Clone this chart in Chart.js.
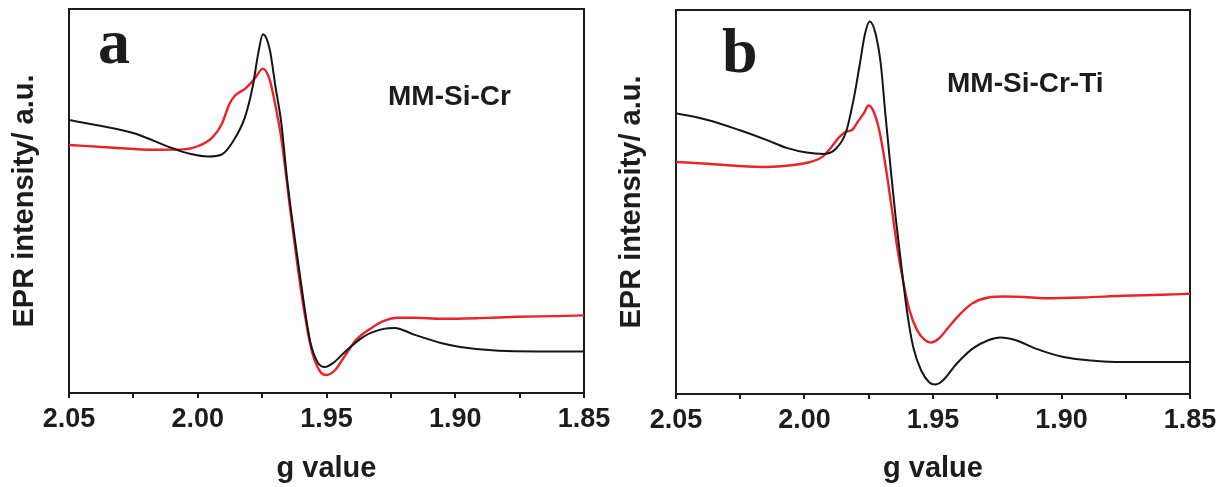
<!DOCTYPE html>
<html>
<head>
<meta charset="utf-8">
<script src="https://cdn.jsdelivr.net/npm/chart.js@4"></script>
<style>
  html, body { margin: 0; padding: 0; background: #ffffff; }
  body { width: 1228px; height: 487px; position: relative; overflow: hidden; }
  .wrap { position: absolute; top: 0; height: 487px; }
  #wa { left: 0; width: 620px; }
  #wb { left: 610px; width: 618px; }
  canvas { display: block; }
</style>
</head>
<body>
<div class="wrap" id="wa"><canvas id="ca" width="620" height="487"></canvas></div>
<div class="wrap" id="wb"><canvas id="cb" width="618" height="487"></canvas></div>
<script>
// ---- data (g value vs EPR intensity, a.u.) ----
const xTickLabels = ['2.05', '2.00', '1.95', '1.90', '1.85'];

const gBlackA = [2.050, 2.0251, 2.0101, 2.0027, 1.9959, 1.9907, 1.9862, 1.9817, 1.9787, 1.9765, 1.9747, 1.9720, 1.9698, 1.9675, 1.9653, 1.9623, 1.9593, 1.9563, 1.9533, 1.9506, 1.9474, 1.9429, 1.9354, 1.9279, 1.9235, 1.9160, 1.9055, 1.8981, 1.8831, 1.8682, 1.850];
const yBlackA = [274, 261, 246, 240, 237.5, 239.5, 253, 276.6, 307, 340.6, 359.7, 344, 307, 270, 215, 155, 100, 52, 31, 27, 31, 42, 57.7, 65.1, 66.1, 59.4, 51, 47, 43.2, 42.6, 42.6];

const gRedA = [2.050, 2.0325, 2.0176, 2.0056, 1.9997, 1.9944, 1.9907, 1.9877, 1.9855, 1.9817, 1.9780, 1.9747, 1.9720, 1.9698, 1.9675, 1.9646, 1.9616, 1.9586, 1.9556, 1.9526, 1.9501, 1.9466, 1.9429, 1.9384, 1.9325, 1.9279, 1.9220, 1.9160, 1.9055, 1.8906, 1.8757, 1.8608, 1.850];
const yRedA = [249, 246.3, 244.3, 244.6, 248, 256.4, 269.8, 290, 298.5, 305, 315, 325.4, 313.6, 288, 255, 195, 135, 82, 42, 23, 19, 24, 38, 54.4, 66.1, 72.9, 76.2, 76.2, 75.2, 75.9, 77.2, 77.9, 78.6];

const gBlackB = [2.050, 2.0377, 2.0254, 2.0146, 2.0069, 1.9992, 1.9923, 1.9877, 1.9838, 1.9808, 1.9785, 1.9765, 1.9746, 1.9723, 1.9703, 1.9685, 1.9666, 1.9646, 1.9623, 1.9600, 1.9577, 1.9546, 1.9515, 1.9492, 1.9462, 1.9408, 1.9346, 1.9285, 1.9238, 1.9177, 1.9100, 1.8992, 1.8885, 1.8762, 1.8608, 1.850];
const yBlackB = [280.8, 274, 264, 253.9, 246.1, 241.4, 240.1, 245.5, 262.3, 295.9, 329.5, 359.8, 372.6, 359.8, 329.5, 279.1, 228.7, 178.2, 127.8, 80.7, 47.1, 23.5, 11.8, 9.4, 13.5, 30.3, 45.4, 53.8, 56.5, 53.8, 45.4, 37, 33.6, 32, 32, 32];

const gRedB = [2.050, 2.0377, 2.0254, 2.0146, 2.0054, 1.9977, 1.9931, 1.9900, 1.9869, 1.9838, 1.9815, 1.9792, 1.9769, 1.9751, 1.9731, 1.9708, 1.9685, 1.9662, 1.9638, 1.9615, 1.9592, 1.9562, 1.9531, 1.9508, 1.9477, 1.9438, 1.9392, 1.9346, 1.9285, 1.9223, 1.9146, 1.9069, 1.8915, 1.8762, 1.8608, 1.850];
const yRedB = [232, 230.3, 228, 227, 228.7, 232, 237.1, 245.5, 255.6, 262.3, 264, 272.4, 280.8, 288.5, 282.5, 262.3, 228.7, 188.3, 144.6, 111, 84.1, 63.9, 53.8, 51.4, 55.5, 67.3, 80.7, 90.8, 96.5, 97.5, 97, 95.8, 96.5, 98.2, 99.2, 100.2];

// ---- helpers ----
function pts(gs, ys) { return gs.map((g, i) => ({ x: g, y: ys[i] })); }

const INK = '#1c1c1c';
const SANS = '"Liberation Sans", Arial, sans-serif';

function panelTextPlugin(items) {
  return {
    id: 'panelText',
    afterDraw(chart) {
      const { ctx, chartArea } = chart;
      ctx.save();
      ctx.fillStyle = INK;
      ctx.textBaseline = 'alphabetic';
      ctx.textAlign = 'left';
      items.forEach(it => {
        ctx.font = it.font;
        ctx.fillText(it.text, chartArea.left + it.dx, chartArea.top + it.dy);
      });
      ctx.restore();
    }
  };
}

function makeChart(canvasId, cfg) {
  const isMajor = v => Math.abs(v * 20 - Math.round(v * 20)) < 1e-6;
  return new Chart(document.getElementById(canvasId), {
    type: 'line',
    data: {
      datasets: [
        { data: pts(cfg.gBlack, cfg.yBlack), borderColor: '#151515', borderWidth: 2, pointRadius: 0, cubicInterpolationMode: 'monotone', fill: false },
        { data: pts(cfg.gRed, cfg.yRed), borderColor: '#e8232b', borderWidth: 2.4, pointRadius: 0, cubicInterpolationMode: 'monotone', fill: false }
      ]
    },
    options: {
      responsive: false,
      animation: false,
      devicePixelRatio: 1,
      layout: { padding: { top: cfg.padTop, right: cfg.padRight, bottom: 0, left: 0 } },
      plugins: { legend: { display: false }, tooltip: { enabled: false } },
      scales: {
        x: {
          type: 'linear',
          position: 'bottom',
          reverse: true,
          min: 1.85,
          max: 2.05,
          afterFit(s) { s.height = cfg.xAxisH; },
          ticks: {
            stepSize: 0.025,
            padding: 5,
            color: INK,
            font: { family: SANS, size: 27, weight: 'bold' },
            maxRotation: 0,
            autoSkip: false,
            callback: v => {
              if (!isMajor(v)) return '';
              const s = (Math.round(v * 100) / 100).toFixed(2);
              return xTickLabels.includes(s) ? s : '';
            }
          },
          grid: { display: true, drawOnChartArea: false, drawTicks: true, tickLength: 5, color: INK, lineWidth: 2 },
          border: { display: true, color: INK, width: 2 },
          title: { display: true, text: 'g value', color: INK, font: { family: SANS, size: 29, weight: 'bold' }, padding: { top: 0, bottom: 1 } }
        },
        x2: {
          type: 'linear',
          position: 'top',
          min: 1.85, max: 2.05,
          afterFit(s) { s.height = 0; },
          ticks: { display: false },
          grid: { display: false },
          border: { display: true, color: INK, width: 2 }
        },
        y: {
          type: 'linear',
          position: 'left',
          min: cfg.yMin,
          max: cfg.yMax,
          afterFit(s) { s.width = cfg.yAxisW; },
          ticks: { display: false },
          grid: { display: false },
          border: { display: true, color: INK, width: 2 },
          title: { display: true, text: 'EPR intensity/ a.u.', color: INK, font: { family: SANS, size: 29, weight: 'bold' }, padding: { top: cfg.yTitlePad, bottom: 0 } }
        },
        y2: {
          type: 'linear',
          position: 'right',
          min: cfg.yMin, max: cfg.yMax,
          afterFit(s) { s.width = 0; },
          ticks: { display: false },
          grid: { display: false },
          border: { display: true, color: INK, width: 2 }
        }
      }
    },
    plugins: [panelTextPlugin(cfg.texts)]
  });
}

makeChart('ca', {
  gBlack: gBlackA, yBlack: yBlackA, gRed: gRedA, yRed: yRedA,
  padTop: 9, padRight: 36, xAxisH: 94, yAxisW: 69, yTitlePad: 8, yMin: 1, yMax: 385,
  texts: [
    { text: 'a', font: 'bold 64px "Liberation Serif", "Times New Roman", serif', dx: 29, dy: 54 },
    { text: 'MM-Si-Cr', font: 'bold 28px ' + SANS, dx: 319, dy: 96 }
  ]
});

makeChart('cb', {
  gBlack: gBlackB, yBlack: yBlackB, gRed: gRedB, yRed: yRedB,
  padTop: 10, padRight: 38, xAxisH: 93, yAxisW: 66, yTitlePad: 5, yMin: 0, yMax: 384,
  texts: [
    { text: 'b', font: 'bold 64px "Liberation Serif", "Times New Roman", serif', dx: 46, dy: 62 },
    { text: 'MM-Si-Cr-Ti', font: 'bold 28px ' + SANS, dx: 271, dy: 82 }
  ]
});
</script>
</body>
</html>
